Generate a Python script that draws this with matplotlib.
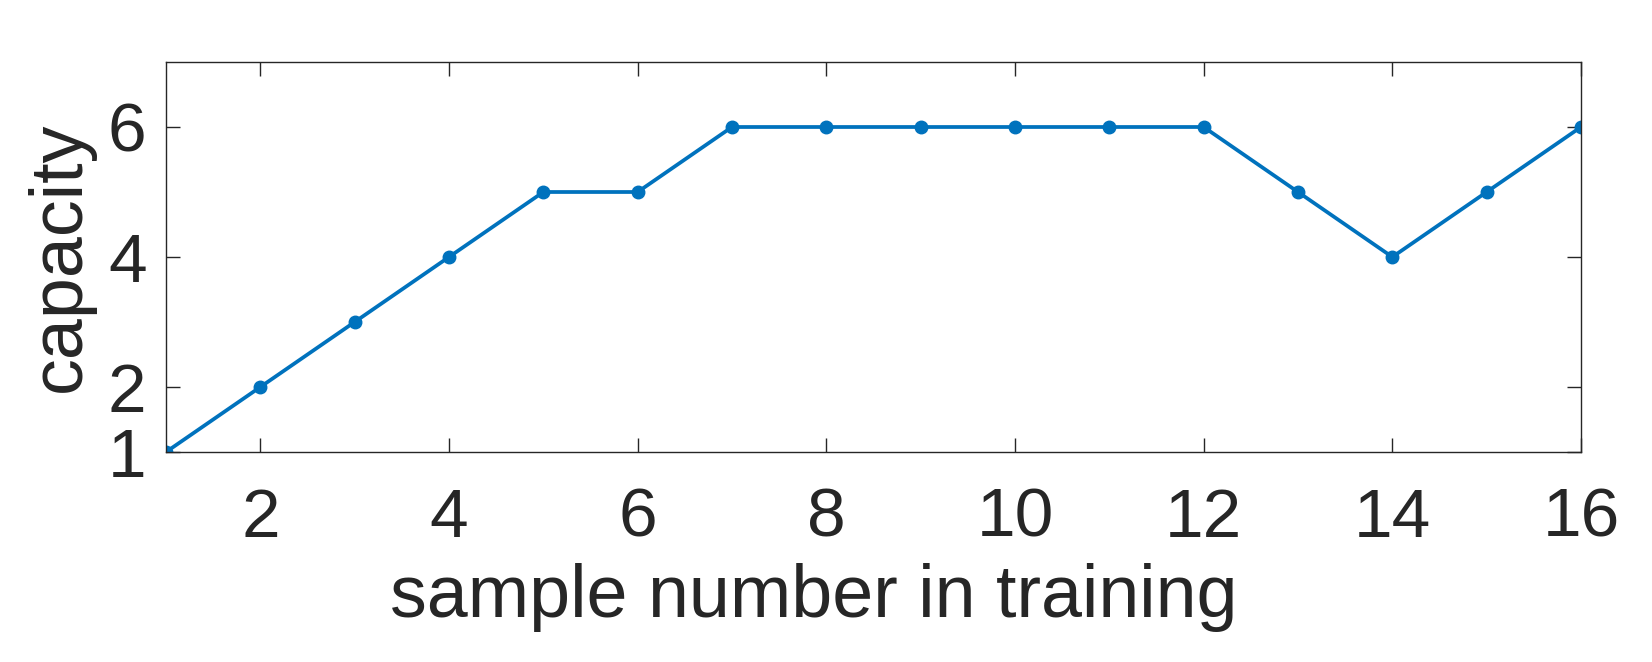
import matplotlib.pyplot as plt

samples = list(range(1, 17))
capacity = [1, 2, 3, 4, 5, 5, 6, 6, 6, 6, 6, 6, 5, 4, 5, 6]
xticks = [2, 4, 6, 8, 10, 12, 14, 16]
yticks = [1, 2, 4, 6]

plt.rcParams['font.family'] = ['Liberation Sans', 'DejaVu Sans']
dark = '#262626'

fig = plt.figure(figsize=(16.52, 6.62), dpi=100)
ax = fig.add_axes([166/1652, 1 - 452/662, (1581-166)/1652, (452-62)/662])

ax.plot(samples, capacity, color='#0072BD', lw=2.7, marker='o', ms=9)

ax.set_xlim(1, 16)
ax.set_ylim(1, 7)
ax.set_xticks(xticks)
ax.set_yticks(yticks)
ax.tick_params(direction='in', length=10, width=1, colors=dark, labelsize=50,
               top=True, right=True)
ax.tick_params(axis='x', pad=25)
ax.tick_params(axis='y', pad=14)
for s in ax.spines.values():
    s.set_color(dark)
    s.set_linewidth(1)

ax.set_xlabel('sample number in training', fontsize=53, color=dark)
ax.set_ylabel('capacity', fontsize=53, color=dark)
ax.xaxis.set_label_coords(0.458, -0.285)
ax.yaxis.set_label_coords(-0.05, 0.5)

fig.savefig('out.png', dpi=100)
